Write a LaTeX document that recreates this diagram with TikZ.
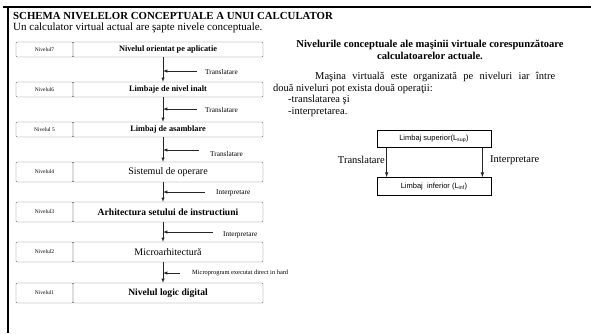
\documentclass[tikz,border=0pt]{standalone}
\usepackage{fontspec}
\setmainfont{Liberation Serif}
\newfontfamily\arial{Liberation Sans}
\usetikzlibrary{arrows}
\usetikzlibrary{positioning}

\tikzset{
  lvlcell/.style={draw=black!55,rounded corners=1pt,minimum width=57pt,inner sep=0pt,font=\fontsize{5.5}{6}\selectfont},
  txtcell/.style={draw=black!55,rounded corners=1pt,minimum width=190pt,inner sep=0pt},
  small/.style={minimum height=15pt},
  big/.style={minimum height=20pt},
  arr/.style={-latex,black!85,line width=0.5pt},
  lbl/.style={anchor=west,inner sep=0pt,font=\fontsize{7.3}{8}\selectfont},
  rbox/.style={draw,line width=0.7pt,minimum width=114pt,inner sep=0pt,font=\arial\fontsize{7.5}{8}\selectfont},
  plain/.style={anchor=west,inner sep=0pt,font=\fontsize{10.5}{12}\selectfont}
}

\begin{document}
\begin{tikzpicture}[x=1pt,y=-1pt]
  \useasboundingbox (0,0) rectangle (591,333);
  % frame
  \draw[line width=2pt] (3,7) -- (591,7);
  \draw[line width=2pt] (8,7) -- (8,333);

  \node[anchor=base west,inner sep=0pt,font=\bfseries\fontsize{10.8}{12}\selectfont] (title) at (13,19) {SCHEMA NIVELELOR CONCEPTUALE A UNUI CALCULATOR};
  \node[anchor=base west,inner sep=0pt,font=\fontsize{11}{12}\selectfont] (sub) at (13,30) {Un calculator virtual actual are şapte nivele conceptuale.};

  % levels
  \node[lvlcell,small] (n7) at (44.5,49.5) {Nivelul7};
  \node[txtcell,small,font=\bfseries\fontsize{8.3}{9}\selectfont] (t7) at (168,49.5) {Nivelul orientat pe aplicatie};
  \node[lvlcell,small] (n6) at (44.5,89.5) {Nivelul6};
  \node[txtcell,small,font=\bfseries\fontsize{8.3}{9}\selectfont] (t6) at (168,89.5) {Limbaje de nivel inalt};
  \node[lvlcell,small] (n5) at (44.5,129.5) {Nivelul 5};
  \node[txtcell,small,font=\bfseries\fontsize{8.3}{9}\selectfont] (t5) at (168,129.5) {Limbaj de asamblare};
  \node[lvlcell,big] (n4) at (44.5,172) {Nivelul4};
  \node[txtcell,big,font=\fontsize{10}{11}\selectfont] (t4) at (168,172) {Sistemul de operare};
  \node[lvlcell,big] (n3) at (44.5,212) {Nivelul3};
  \node[txtcell,big,font=\bfseries\fontsize{9.6}{11}\selectfont] (t3) at (168,212) {Arhitectura setului de instructiuni};
  \node[lvlcell,big] (n2) at (44.5,252) {Nivelul2};
  \node[txtcell,big,font=\fontsize{10}{11}\selectfont] (t2) at (168,252) {Microarhitectură};
  \node[lvlcell,big] (n1) at (44.5,293) {Nivelul1};
  \node[txtcell,big,font=\bfseries\fontsize{9.6}{11}\selectfont] (t1) at (168,293) {Nivelul logic digital};

  \coordinate (axis) at (163,0);
  \draw[arr] (t7.south -| axis) -- (t6.north -| axis);
  \draw[arr] (t6.south -| axis) -- (t5.north -| axis);
  \draw[arr] (t5.south -| axis) -- (t4.north -| axis);
  \draw[arr] (t4.south -| axis) -- (t3.north -| axis);
  \draw[arr] (t3.south -| axis) -- (t2.north -| axis);
  \draw[arr] (t2.south -| axis) -- (t1.north -| axis);

  \coordinate (h7) at (197,71);
  \coordinate (h6) at (197,109);
  \coordinate (h5) at (199,150);
  \coordinate (h4) at (205,192);
  \coordinate (h3) at (213,232);
  \coordinate (h2) at (180,273);
  \draw[arr] (h7) -- (h7 -| axis);
  \draw[arr] (h6) -- (h6 -| axis);
  \draw[arr] (h5) -- (h5 -| axis);
  \draw[arr] (h4) -- (h4 -| axis);
  \draw[arr] (h3) -- (h3 -| axis);
  \draw[arr] (h2) -- (h2 -| axis);
  \node[lbl] (l7) at (205,72) {Translatare};
  \node[lbl] (l6) at (205,110) {Translatare};
  \node[lbl] (l5) at (210,154) {Translatare};
  \node[lbl] (l4) at (216,193) {Interpretare};
  \node[lbl] (l3) at (223,235) {Interpretare};
  \node[lbl,font=\fontsize{6.4}{7}\selectfont] (l2) at (192,273) {Microprogram executat direct in hard};

  % right side
  \node[align=center,inner sep=0pt,font=\bfseries\fontsize{10.6}{11.5}\selectfont] (head) at (430,50) {Nivelurile conceptuale ale maşinii virtuale corespunzătoare\\calculatoarelor actuale.};
  \node[plain] (p1) at (315,77) {\makebox[240pt][s]{Maşina virtuală este organizată pe niveluri iar între}};
  \node[plain] (p2) at (273,89) {două niveluri pot exista două operaţii:};
  \node[plain] (p3) at (288,100) {-translatarea şi};
  \node[plain] (p4) at (288,112) {-interpretarea.};

  \node[rbox,minimum height=17pt] (sup) at (434,139) {Limbaj superior(L\textsubscript{sup})};
  \node[rbox,minimum height=18pt] (inf) at (434,186.5) {Limbaj \ inferior (L\textsubscript{inf})};
  \draw[arr,line width=0.7pt] ([xshift=10pt]sup.south west) -- ([xshift=10pt]inf.north west);
  \draw[arr,line width=0.7pt] ([xshift=-9pt]sup.south east) -- ([xshift=-9pt]inf.north east);
  \node[anchor=east,inner sep=0pt,font=\fontsize{10.5}{12}\selectfont] (ltr) at (385,160) {Translatare};
  \node[anchor=west,inner sep=0pt,font=\fontsize{10.5}{12}\selectfont] (lint) at (490,160) {Interpretare};
\end{tikzpicture}
\end{document}
